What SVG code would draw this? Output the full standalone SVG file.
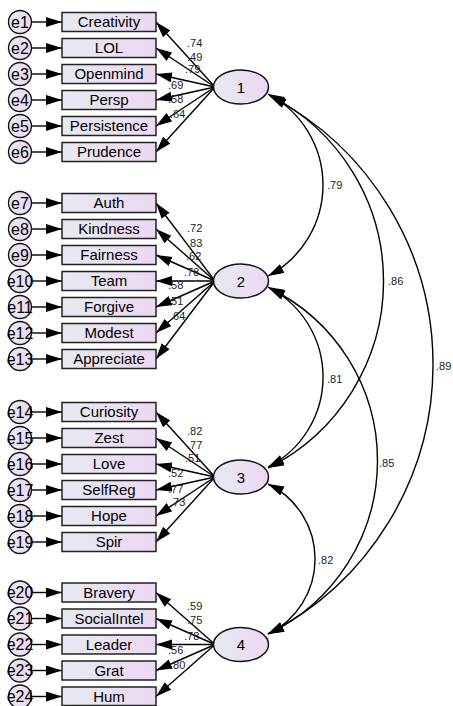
<svg xmlns="http://www.w3.org/2000/svg" width="453" height="706" viewBox="0 0 453 706">
<style>
.box{fill:url(#g);stroke:#222;stroke-width:1.5}
.err{fill:url(#g);stroke:#111;stroke-width:1.4}
.fac{fill:url(#g);stroke:#111;stroke-width:1.5}
.t{font-family:"Liberation Sans",Arial,sans-serif;font-size:15px;fill:#000;text-anchor:middle}
.e{font-family:"Liberation Sans",Arial,sans-serif;font-size:16px;fill:#000;text-anchor:middle}
.n{font-family:"Liberation Sans",Arial,sans-serif;font-size:11px;fill:#222}
.ln{stroke:#000;stroke-width:1.4;fill:none;marker-end:url(#ah)}
.cv{stroke:#000;stroke-width:1.4;fill:none;marker-start:url(#ah);marker-end:url(#ah)}
</style>
<defs>
<linearGradient id="g" x1="0" y1="0" x2="1" y2="0">
<stop offset="0" stop-color="#e6eaf0"/>
<stop offset="1" stop-color="#ecd8f3"/>
</linearGradient>
<marker id="ah" markerUnits="userSpaceOnUse" markerWidth="17" markerHeight="11" refX="16" refY="5" orient="auto-start-reverse">
<path d="M0,0 L16,5 L0,10 z" fill="#000"/>
</marker>
</defs>
<g id="connectors">
<line class="ln" x1="32" y1="22" x2="62" y2="22"/>
<line class="ln" x1="32" y1="48" x2="62" y2="48"/>
<line class="ln" x1="32" y1="74" x2="62" y2="74"/>
<line class="ln" x1="32" y1="100" x2="62" y2="100"/>
<line class="ln" x1="32" y1="126" x2="62" y2="126"/>
<line class="ln" x1="32" y1="152" x2="62" y2="152"/>
<line class="ln" x1="32" y1="203" x2="62" y2="203"/>
<line class="ln" x1="32" y1="229" x2="62" y2="229"/>
<line class="ln" x1="32" y1="255" x2="62" y2="255"/>
<line class="ln" x1="32" y1="281" x2="62" y2="281"/>
<line class="ln" x1="32" y1="307" x2="62" y2="307"/>
<line class="ln" x1="32" y1="333" x2="62" y2="333"/>
<line class="ln" x1="32" y1="359" x2="62" y2="359"/>
<line class="ln" x1="32" y1="412" x2="62" y2="412"/>
<line class="ln" x1="32" y1="438" x2="62" y2="438"/>
<line class="ln" x1="32" y1="464" x2="62" y2="464"/>
<line class="ln" x1="32" y1="490" x2="62" y2="490"/>
<line class="ln" x1="32" y1="516" x2="62" y2="516"/>
<line class="ln" x1="32" y1="542" x2="62" y2="542"/>
<line class="ln" x1="32" y1="592.5" x2="62" y2="592.5"/>
<line class="ln" x1="32" y1="618.5" x2="62" y2="618.5"/>
<line class="ln" x1="32" y1="644.5" x2="62" y2="644.5"/>
<line class="ln" x1="32" y1="670.5" x2="62" y2="670.5"/>
<line class="ln" x1="32" y1="696.5" x2="62" y2="696.5"/>
<line class="ln" x1="215" y1="87" x2="156" y2="22"/>
<line class="ln" x1="215" y1="87" x2="156" y2="48"/>
<line class="ln" x1="215" y1="87" x2="156" y2="74"/>
<line class="ln" x1="215" y1="87" x2="156" y2="100"/>
<line class="ln" x1="215" y1="87" x2="156" y2="126"/>
<line class="ln" x1="215" y1="87" x2="156" y2="152"/>
<line class="ln" x1="215" y1="281" x2="156" y2="203"/>
<line class="ln" x1="215" y1="281" x2="156" y2="229"/>
<line class="ln" x1="215" y1="281" x2="156" y2="255"/>
<line class="ln" x1="215" y1="281" x2="156" y2="281"/>
<line class="ln" x1="215" y1="281" x2="156" y2="307"/>
<line class="ln" x1="215" y1="281" x2="156" y2="333"/>
<line class="ln" x1="215" y1="281" x2="156" y2="359"/>
<line class="ln" x1="215" y1="477" x2="156" y2="412"/>
<line class="ln" x1="215" y1="477" x2="156" y2="438"/>
<line class="ln" x1="215" y1="477" x2="156" y2="464"/>
<line class="ln" x1="215" y1="477" x2="156" y2="490"/>
<line class="ln" x1="215" y1="477" x2="156" y2="516"/>
<line class="ln" x1="215" y1="477" x2="156" y2="542"/>
<line class="ln" x1="215" y1="644.5" x2="156" y2="592.5"/>
<line class="ln" x1="215" y1="644.5" x2="156" y2="618.5"/>
<line class="ln" x1="215" y1="644.5" x2="156" y2="644.5"/>
<line class="ln" x1="215" y1="644.5" x2="156" y2="670.5"/>
<line class="ln" x1="215" y1="644.5" x2="156" y2="696.5"/>
<path class="cv" d="M268,94 A102.8,102.8 0 0 1 268,276"/>
<path class="cv" d="M269,95 A208.7,208.7 0 0 1 268,468"/>
<path class="cv" d="M270,96 A302.6,302.6 0 0 1 268,634"/>
<path class="cv" d="M268,287 A101.1,101.1 0 0 1 268,467"/>
<path class="cv" d="M269,288 A191.8,191.8 0 0 1 268,634"/>
<path class="cv" d="M268,484 A83.3,83.3 0 0 1 268,634"/>
<text class="n" x="187" y="47">.74</text>
<text class="n" x="187" y="61">.49</text>
<text class="n" x="185" y="73">.79</text>
<text class="n" x="168" y="89">.69</text>
<text class="n" x="168" y="103">.58</text>
<text class="n" x="170" y="118">.64</text>
<text class="n" x="187" y="232">.72</text>
<text class="n" x="187" y="247">.83</text>
<text class="n" x="186" y="260">.62</text>
<text class="n" x="184" y="276">.78</text>
<text class="n" x="168" y="289">.58</text>
<text class="n" x="168" y="305">.51</text>
<text class="n" x="170" y="320">.64</text>
<text class="n" x="187" y="435">.82</text>
<text class="n" x="187" y="449">.77</text>
<text class="n" x="185" y="462">.51</text>
<text class="n" x="168" y="477">.52</text>
<text class="n" x="168" y="493">.77</text>
<text class="n" x="170" y="506">.73</text>
<text class="n" x="187" y="610">.59</text>
<text class="n" x="187" y="624">.75</text>
<text class="n" x="184" y="640">.78</text>
<text class="n" x="168" y="654">.56</text>
<text class="n" x="170" y="669">.80</text>
<text class="n" x="327" y="189">.79</text>
<text class="n" x="388" y="285">.86</text>
<text class="n" x="327" y="383">.81</text>
<text class="n" x="436" y="370">.89</text>
<text class="n" x="379" y="467">.85</text>
<text class="n" x="318" y="564">.82</text>
</g>
<g id="e1"><circle class="err" cx="20" cy="22" r="11.5"/><text class="e" x="20" y="27.5">e1</text></g>
<g id="e2"><circle class="err" cx="20" cy="48" r="11.5"/><text class="e" x="20" y="53.5">e2</text></g>
<g id="e3"><circle class="err" cx="20" cy="74" r="11.5"/><text class="e" x="20" y="79.5">e3</text></g>
<g id="e4"><circle class="err" cx="20" cy="100" r="11.5"/><text class="e" x="20" y="105.5">e4</text></g>
<g id="e5"><circle class="err" cx="20" cy="126" r="11.5"/><text class="e" x="20" y="131.5">e5</text></g>
<g id="e6"><circle class="err" cx="20" cy="152" r="11.5"/><text class="e" x="20" y="157.5">e6</text></g>
<g id="e7"><circle class="err" cx="20" cy="203" r="11.5"/><text class="e" x="20" y="208.5">e7</text></g>
<g id="e8"><circle class="err" cx="20" cy="229" r="11.5"/><text class="e" x="20" y="234.5">e8</text></g>
<g id="e9"><circle class="err" cx="20" cy="255" r="11.5"/><text class="e" x="20" y="260.5">e9</text></g>
<g id="e10"><circle class="err" cx="20" cy="281" r="11.5"/><text class="e" x="20" y="286.5">e10</text></g>
<g id="e11"><circle class="err" cx="20" cy="307" r="11.5"/><text class="e" x="20" y="312.5">e11</text></g>
<g id="e12"><circle class="err" cx="20" cy="333" r="11.5"/><text class="e" x="20" y="338.5">e12</text></g>
<g id="e13"><circle class="err" cx="20" cy="359" r="11.5"/><text class="e" x="20" y="364.5">e13</text></g>
<g id="e14"><circle class="err" cx="20" cy="412" r="11.5"/><text class="e" x="20" y="417.5">e14</text></g>
<g id="e15"><circle class="err" cx="20" cy="438" r="11.5"/><text class="e" x="20" y="443.5">e15</text></g>
<g id="e16"><circle class="err" cx="20" cy="464" r="11.5"/><text class="e" x="20" y="469.5">e16</text></g>
<g id="e17"><circle class="err" cx="20" cy="490" r="11.5"/><text class="e" x="20" y="495.5">e17</text></g>
<g id="e18"><circle class="err" cx="20" cy="516" r="11.5"/><text class="e" x="20" y="521.5">e18</text></g>
<g id="e19"><circle class="err" cx="20" cy="542" r="11.5"/><text class="e" x="20" y="547.5">e19</text></g>
<g id="e20"><circle class="err" cx="20" cy="592.5" r="11.5"/><text class="e" x="20" y="598">e20</text></g>
<g id="e21"><circle class="err" cx="20" cy="618.5" r="11.5"/><text class="e" x="20" y="624">e21</text></g>
<g id="e22"><circle class="err" cx="20" cy="644.5" r="11.5"/><text class="e" x="20" y="650">e22</text></g>
<g id="e23"><circle class="err" cx="20" cy="670.5" r="11.5"/><text class="e" x="20" y="676">e23</text></g>
<g id="e24"><circle class="err" cx="20" cy="696.5" r="11.5"/><text class="e" x="20" y="702">e24</text></g>
<g id="Creativity"><rect class="box" x="62" y="12.5" width="94" height="19"/><text class="t" x="109" y="27">Creativity</text></g>
<g id="LOL"><rect class="box" x="62" y="38.5" width="94" height="19"/><text class="t" x="109" y="53">LOL</text></g>
<g id="Openmind"><rect class="box" x="62" y="64.5" width="94" height="19"/><text class="t" x="109" y="79">Openmind</text></g>
<g id="Persp"><rect class="box" x="62" y="90.5" width="94" height="19"/><text class="t" x="109" y="105">Persp</text></g>
<g id="Persistence"><rect class="box" x="62" y="116.5" width="94" height="19"/><text class="t" x="109" y="131">Persistence</text></g>
<g id="Prudence"><rect class="box" x="62" y="142.5" width="94" height="19"/><text class="t" x="109" y="157">Prudence</text></g>
<g id="Auth"><rect class="box" x="62" y="193.5" width="94" height="19"/><text class="t" x="109" y="208">Auth</text></g>
<g id="Kindness"><rect class="box" x="62" y="219.5" width="94" height="19"/><text class="t" x="109" y="234">Kindness</text></g>
<g id="Fairness"><rect class="box" x="62" y="245.5" width="94" height="19"/><text class="t" x="109" y="260">Fairness</text></g>
<g id="Team"><rect class="box" x="62" y="271.5" width="94" height="19"/><text class="t" x="109" y="286">Team</text></g>
<g id="Forgive"><rect class="box" x="62" y="297.5" width="94" height="19"/><text class="t" x="109" y="312">Forgive</text></g>
<g id="Modest"><rect class="box" x="62" y="323.5" width="94" height="19"/><text class="t" x="109" y="338">Modest</text></g>
<g id="Appreciate"><rect class="box" x="62" y="349.5" width="94" height="19"/><text class="t" x="109" y="364">Appreciate</text></g>
<g id="Curiosity"><rect class="box" x="62" y="402.5" width="94" height="19"/><text class="t" x="109" y="417">Curiosity</text></g>
<g id="Zest"><rect class="box" x="62" y="428.5" width="94" height="19"/><text class="t" x="109" y="443">Zest</text></g>
<g id="Love"><rect class="box" x="62" y="454.5" width="94" height="19"/><text class="t" x="109" y="469">Love</text></g>
<g id="SelfReg"><rect class="box" x="62" y="480.5" width="94" height="19"/><text class="t" x="109" y="495">SelfReg</text></g>
<g id="Hope"><rect class="box" x="62" y="506.5" width="94" height="19"/><text class="t" x="109" y="521">Hope</text></g>
<g id="Spir"><rect class="box" x="62" y="532.5" width="94" height="19"/><text class="t" x="109" y="547">Spir</text></g>
<g id="Bravery"><rect class="box" x="62" y="583" width="94" height="19"/><text class="t" x="109" y="597.5">Bravery</text></g>
<g id="SocialIntel"><rect class="box" x="62" y="609" width="94" height="19"/><text class="t" x="109" y="623.5">SocialIntel</text></g>
<g id="Leader"><rect class="box" x="62" y="635" width="94" height="19"/><text class="t" x="109" y="649.5">Leader</text></g>
<g id="Grat"><rect class="box" x="62" y="661" width="94" height="19"/><text class="t" x="109" y="675.5">Grat</text></g>
<g id="Hum"><rect class="box" x="62" y="687" width="94" height="18.5"/><text class="t" x="109" y="701.5">Hum</text></g>
<g id="F1"><ellipse class="fac" cx="241" cy="87" rx="27.5" ry="17"/><text class="t" x="241" y="92.5">1</text></g>
<g id="F2"><ellipse class="fac" cx="241" cy="281" rx="27.5" ry="17"/><text class="t" x="241" y="286.5">2</text></g>
<g id="F3"><ellipse class="fac" cx="241" cy="477" rx="27.5" ry="17"/><text class="t" x="241" y="482.5">3</text></g>
<g id="F4"><ellipse class="fac" cx="241" cy="644.5" rx="27.5" ry="17"/><text class="t" x="241" y="650">4</text></g>
</svg>
